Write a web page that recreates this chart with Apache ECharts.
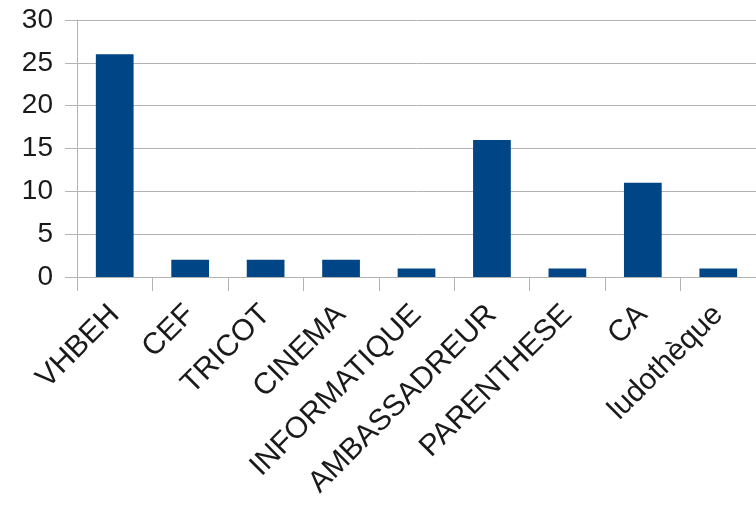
<!DOCTYPE html>
<html>
<head>
<meta charset="utf-8">
<script src="https://cdn.jsdelivr.net/npm/echarts@6/dist/echarts.min.js"></script>
<style>html,body{margin:0;padding:0;background:#fff}#c{width:756px;height:505px}</style>
</head>
<body>
<div id="c"></div>
<script>
const categories = ['VHBEH','CEF','TRICOT','CINEMA','INFORMATIQUE','AMBASSADREUR','PARENTHESE','CA','ludothèque'];
const values = [26, 2, 2, 2, 1, 16, 1, 11, 1];
const yTicks = [0, 5, 10, 15, 20, 25, 30];

const chart = echarts.init(document.getElementById('c'), null, {renderer: 'canvas'});
const gray = '#b3b3b3';
const textColor = '#1a1a1a';
chart.setOption({
  animation: false,
  grid: {left: 77, right: -3, top: 20, bottom: 228, containLabel: false},
  xAxis: {
    type: 'category',
    data: categories,
    axisLine: {show: true, lineStyle: {color: gray, width: 1}},
    axisTick: {show: true, length: 14, lineStyle: {color: gray, width: 1}},
    axisLabel: {
      rotate: 45, margin: 33, interval: 0,
      fontFamily: 'Liberation Sans', fontSize: 30, color: textColor
    }
  },
  yAxis: {
    type: 'value',
    min: yTicks[0], max: yTicks[yTicks.length - 1], interval: 5,
    axisLine: {show: true, lineStyle: {color: gray, width: 1}},
    axisTick: {show: true, length: 12, lineStyle: {color: gray, width: 1}},
    splitLine: {show: true, lineStyle: {color: gray, width: 1}},
    axisLabel: {margin: 24, fontFamily: 'Liberation Sans', fontSize: 28, color: textColor}
  },
  series: [{
    type: 'bar',
    data: values,
    barWidth: '50%',
    itemStyle: {color: '#004586'}
  }]
});
</script>
</body>
</html>
